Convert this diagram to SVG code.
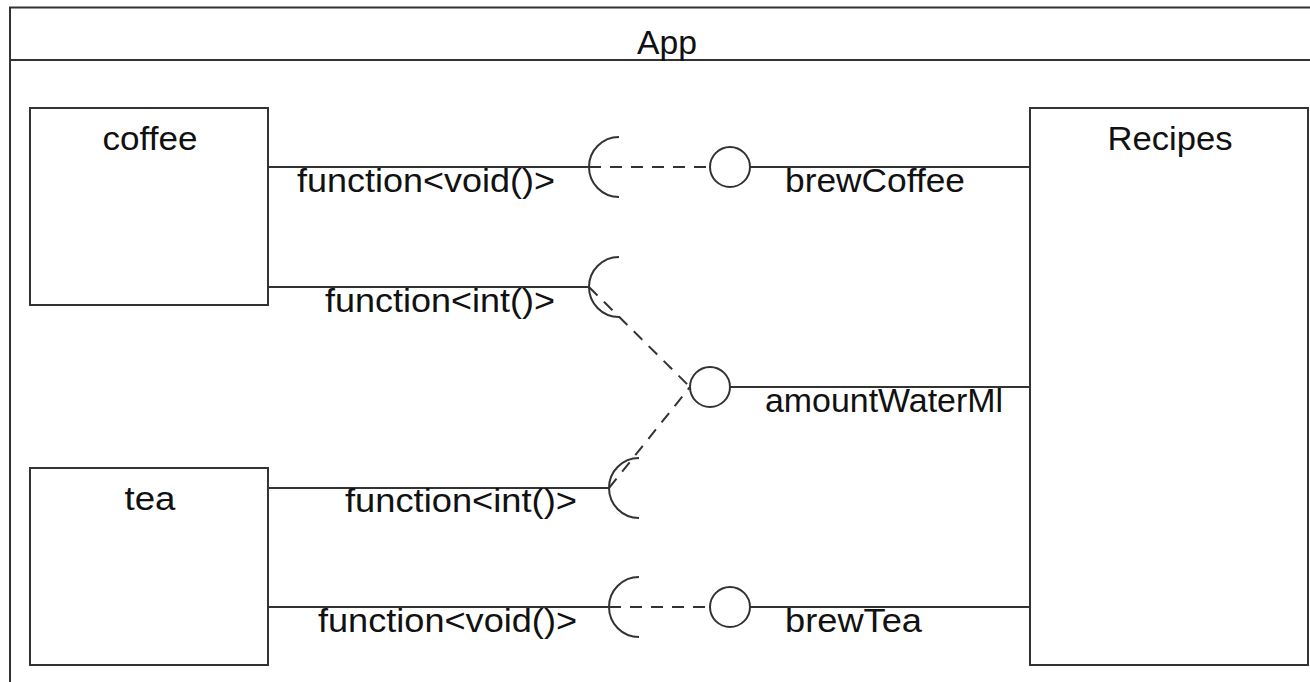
<svg xmlns="http://www.w3.org/2000/svg" width="1310" height="682" viewBox="0 0 1310 682">
<style>
.s{fill:none;stroke:#333;stroke-width:2}
.d{fill:none;stroke:#333;stroke-width:2;stroke-dasharray:12 9}
.b{fill:#fff;stroke:#333;stroke-width:2}
text{font-family:"Liberation Sans",Arial,sans-serif;font-size:33px;fill:#111}
.m{text-anchor:middle}
.e{text-anchor:end}
</style>
<rect x="0" y="0" width="1310" height="682" fill="#fff"/>
<g id="app">
<rect class="s" x="10" y="7.5" width="1314" height="700"/>
<line class="s" x1="10" y1="60" x2="1324" y2="60"/>
<text class="m" x="667" y="54" textLength="60" lengthAdjust="spacingAndGlyphs">App</text>
</g>
<g id="coffee">
<rect class="b" x="30" y="108" width="238" height="197"/>
<text class="m" x="150" y="150" textLength="95" lengthAdjust="spacingAndGlyphs">coffee</text>
</g>
<g id="tea">
<rect class="b" x="30" y="468" width="238" height="197"/>
<text class="m" x="150" y="510" textLength="51" lengthAdjust="spacingAndGlyphs">tea</text>
</g>
<g id="recipes">
<rect class="b" x="1030" y="108" width="278" height="557"/>
<text class="m" x="1170" y="150" textLength="125" lengthAdjust="spacingAndGlyphs">Recipes</text>
</g>
<g id="connectors">
<line class="s" x1="268" y1="167" x2="589" y2="167"/>
<path class="s" d="M619,137 A30,30 0 0 0 619,197"/>
<line class="d" x1="589" y1="167" x2="710" y2="167"/>
<circle class="s" cx="730" cy="167" r="20"/>
<line class="s" x1="750" y1="167" x2="1030" y2="167"/>
<line class="s" x1="268" y1="287" x2="589" y2="287"/>
<path class="s" d="M619,257 A30,30 0 0 0 619,317"/>
<line class="d" x1="589" y1="287" x2="690" y2="387"/>
<circle class="s" cx="710" cy="387" r="20"/>
<line class="s" x1="730" y1="387" x2="1030" y2="387"/>
<line class="s" x1="268" y1="488" x2="609" y2="488"/>
<path class="s" d="M639,458 A30,30 0 0 0 639,518"/>
<line class="d" x1="609" y1="488" x2="690" y2="387"/>
<line class="s" x1="268" y1="607" x2="609" y2="607"/>
<path class="s" d="M639,577 A30,30 0 0 0 639,637"/>
<line class="d" x1="609" y1="607" x2="710" y2="607"/>
<circle class="s" cx="730" cy="607" r="20"/>
<line class="s" x1="750" y1="607" x2="1030" y2="607"/>
<text x="297" y="192" textLength="258" lengthAdjust="spacingAndGlyphs">function&lt;void()&gt;</text>
<text x="785" y="192" textLength="180" lengthAdjust="spacingAndGlyphs">brewCoffee</text>
<text x="325" y="312" textLength="230" lengthAdjust="spacingAndGlyphs">function&lt;int()&gt;</text>
<text x="765" y="412" textLength="238" lengthAdjust="spacingAndGlyphs">amountWaterMl</text>
<text x="345" y="512" textLength="232" lengthAdjust="spacingAndGlyphs">function&lt;int()&gt;</text>
<text x="318" y="632" textLength="259" lengthAdjust="spacingAndGlyphs">function&lt;void()&gt;</text>
<text x="785" y="632" textLength="137" lengthAdjust="spacingAndGlyphs">brewTea</text>
</g>
</svg>
